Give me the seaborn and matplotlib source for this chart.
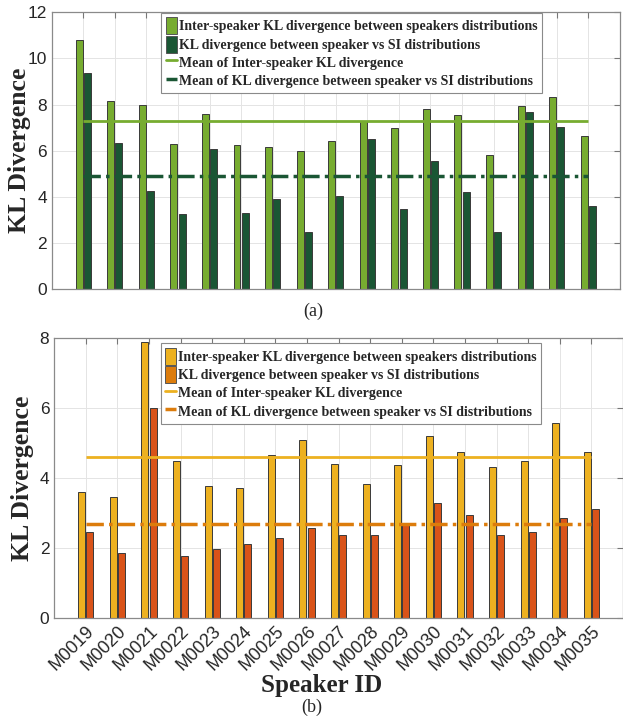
import pandas as pd
import seaborn as sns
import matplotlib.pyplot as plt
from matplotlib.patches import Patch
from matplotlib.lines import Line2D

speakers = ['M0019', 'M0020', 'M0021', 'M0022', 'M0023', 'M0024', 'M0025', 'M0026', 'M0027',
            'M0028', 'M0029', 'M0030', 'M0031', 'M0032', 'M0033', 'M0034', 'M0035']

# panel (a)
inter_a = [10.8, 8.15, 8.0, 6.3, 7.58, 6.26, 6.18, 6.0, 6.42, 7.28, 6.98, 7.8, 7.53, 5.82, 7.93, 8.32, 6.65]
si_a = [9.35, 6.32, 4.26, 3.28, 6.06, 3.3, 3.9, 2.5, 4.04, 6.52, 3.47, 5.56, 4.2, 2.5, 7.68, 7.04, 3.6]
mean_inter_a = 7.27
mean_si_a = 4.89

# panel (b)
inter_b = [3.62, 3.47, 7.9, 4.48, 3.78, 3.71, 4.66, 5.09, 4.42, 3.84, 4.37, 5.22, 4.76, 4.31, 4.5, 5.59, 4.74]
si_b = [2.45, 1.85, 6.02, 1.79, 1.99, 2.12, 2.3, 2.57, 2.39, 2.39, 2.7, 3.29, 2.96, 2.39, 2.45, 2.87, 3.13]
mean_inter_b = 4.6
mean_si_b = 2.69

lab_inter = 'Inter-speaker KL divergence between speakers distributions'
lab_si = 'KL divergence between speaker vs SI distributions'
lab_mean_inter = 'Mean of Inter-speaker KL divergence'
lab_mean_si = 'Mean of KL divergence between speaker vs SI distributions'

sns.set_style('white')
plt.rcParams['font.family'] = ['Liberation Sans', 'DejaVu Sans']

serif = 'Liberation Serif'
dashdot = (0, (5, 1.5, 1, 1.5))


def panel(ax, inter, si, m_inter, m_si, c1, c2, c2_leg, ymax, yticks, anchor, ylab_x):
    df = pd.DataFrame({'speaker': speakers * 2,
                       'value': inter + si,
                       'kind': [lab_inter] * len(speakers) + [lab_si] * len(speakers)})
    sns.barplot(data=df, x='speaker', y='value', hue='kind', palette=[c1, c2],
                saturation=1, width=0.52, gap=0.15, edgecolor='#3a3a3a', linewidth=0.7,
                legend=False, ax=ax, zorder=2)
    n = len(speakers)
    ax.hlines(m_inter, 0, n - 1, color=c1, lw=2, zorder=3)
    ax.hlines(m_si, 0, n - 1, color=c2_leg, lw=2.5, linestyles=[dashdot], zorder=3)
    ax.set_xlim(-1, n)
    ax.set_ylim(0, ymax)
    ax.set_yticks(yticks)
    ax.grid(True, color='#e4e4e4', lw=0.7, zorder=0)
    ax.set_axisbelow(True)
    for s in ax.spines.values():
        s.set_color('#8a8a8a')
        s.set_linewidth(0.9)
    ax.tick_params(direction='in', top=True, right=True, length=4, color='#777777',
                   labelsize=12.5, labelcolor='#262626')
    ax.set_ylabel('KL Divergence', fontfamily=serif, fontweight='bold', fontsize=18.5)
    ax.yaxis.set_label_coords(ylab_x, 0.5)
    handles = [Patch(facecolor=c1, edgecolor='#555555', lw=0.7),
               Patch(facecolor=c2_leg, edgecolor='#555555', lw=0.7),
               Line2D([], [], color=c1, lw=2),
               Line2D([], [], color=c2_leg, lw=2.5, ls=dashdot)]
    leg = ax.legend(handles, [lab_inter, lab_si, lab_mean_inter, lab_mean_si],
                    loc='upper left', bbox_to_anchor=anchor, frameon=True, fancybox=False,
                    edgecolor='#8a8a8a', framealpha=1, handlelength=0.8, handleheight=1.5,
                    handletextpad=0.15, labelspacing=0.1, borderpad=0.3, borderaxespad=0,
                    prop={'family': serif, 'weight': 'bold', 'size': 10})
    leg.get_frame().set_linewidth(0.8)
    leg.set_zorder(5)


fig = plt.figure(figsize=(6.23, 7.23), dpi=100)
ax1 = fig.add_axes([0.083, 0.600, 0.912, 0.383])
ax2 = fig.add_axes([0.087, 0.145, 0.913, 0.387])

panel(ax1, inter_a, si_a, mean_inter_a, mean_si_a, '#77ac30', '#1a5634', '#1a5634',
      12, [0, 2, 4, 6, 8, 10, 12], (0.193, 0.997), -0.036)
ax1.set_xticklabels([])
ax1.set_xlabel('')

panel(ax2, inter_b, si_b, mean_inter_b, mean_si_b, '#edb120', '#d95319', '#dc7c0c',
      8, [0, 2, 4, 6, 8], (0.187, 0.982), -0.036)
ax2.set_xticks(range(len(speakers)))
ax2.set_xticklabels(speakers, rotation=45, ha='right', rotation_mode='anchor', fontsize=13)
ax2.set_xlabel('Speaker ID', fontfamily=serif, fontweight='bold', fontsize=18)
ax2.xaxis.set_label_coords(0.47, -0.2)

fig.text(0.503, 1 - 311 / 723, '(a)', ha='center', va='center', fontfamily=serif, fontsize=13)
fig.text(0.5, 1 - 707 / 723, '(b)', ha='center', va='center', fontfamily=serif, fontsize=13)

fig.savefig('out.png', dpi=100)
